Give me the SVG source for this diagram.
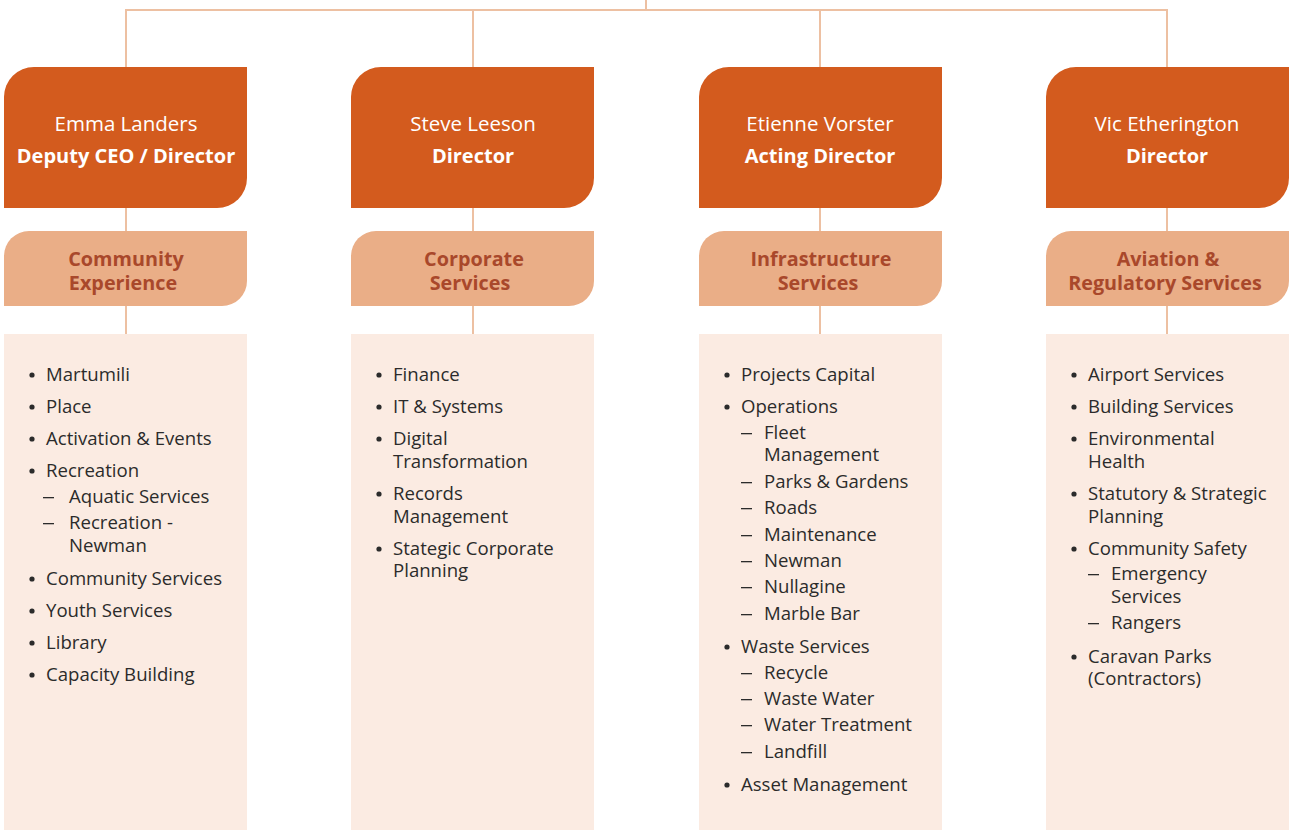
<svg xmlns="http://www.w3.org/2000/svg" width="1290" height="830" viewBox="0 0 1290 830">
<style>
.con{stroke:#EDC0A2;stroke-width:2;fill:none}
.head{fill:#D35B1E}
.dept{fill:#EAAE87}
.list{fill:#FBEBE2}
.bu{fill:#2b2b2b}
.hn{font-family:"Open Sans","Liberation Sans",sans-serif;font-size:20.5px;fill:#fff;text-anchor:middle}
.ht{font-family:"Open Sans","Liberation Sans",sans-serif;font-size:20px;font-weight:bold;fill:#fff;text-anchor:middle}
.dt{font-family:"Open Sans","Liberation Sans",sans-serif;font-size:19.8px;font-weight:bold;fill:#A9482B;text-anchor:middle}
.li{font-family:"Open Sans","Liberation Sans",sans-serif;font-size:18.6px;fill:#2b2b2b}
</style>
<rect width="1290" height="830" fill="#fff"/>
<g id="connectors">
<path class="con" d="M646,0V10M125,10H1168"/>
<path class="con" d="M126,10V67M126,208V231M126,306V334"/>
<path class="con" d="M473,10V67M473,208V231M473,306V334"/>
<path class="con" d="M820,10V67M820,208V231M820,306V334"/>
<path class="con" d="M1167,10V67M1167,208V231M1167,306V334"/>
</g>
<g id="col1">
<g id="head1"><path class="head" d="M4,97A30,30 0 0 1 34,67H247V178A30,30 0 0 1 217,208H4Z"/>
<text class="hn" x="126" y="131">Emma Landers</text><text class="ht" x="126" y="163">Deputy CEO / Director</text></g>
<g id="dept1"><path class="dept" d="M4,256A25,25 0 0 1 29,231H247V281A25,25 0 0 1 222,306H4Z"/>
<text class="dt" x="126" y="266">Community</text><text class="dt" x="123" y="290">Experience</text></g>
<g id="list1"><rect class="list" x="4" y="334" width="243" height="496"/>
<g class="bu"><circle cx="32" cy="375" r="2.6"/><circle cx="32" cy="407" r="2.6"/><circle cx="32" cy="439" r="2.6"/><circle cx="32" cy="471" r="2.6"/><circle cx="32" cy="579" r="2.6"/><circle cx="32" cy="611" r="2.6"/><circle cx="32" cy="643" r="2.6"/><circle cx="32" cy="675" r="2.6"/>
<rect x="43" y="497" width="11" height="1.3"/><rect x="43" y="523" width="11" height="1.3"/></g>
<g class="li">
<text x="46" y="381">Martumili</text>
<text x="46" y="413">Place</text>
<text x="46" y="445">Activation &amp; Events</text>
<text x="46" y="477">Recreation</text>
<text x="69" y="503">Aquatic Services</text>
<text x="69" y="529">Recreation -</text><text x="69" y="552">Newman</text>
<text x="46" y="585">Community Services</text>
<text x="46" y="617">Youth Services</text>
<text x="46" y="649">Library</text>
<text x="46" y="681">Capacity Building</text>
</g></g>
</g>
<g id="col2">
<g id="head2"><path class="head" d="M351,97A30,30 0 0 1 381,67H594V178A30,30 0 0 1 564,208H351Z"/>
<text class="hn" x="473" y="131">Steve Leeson</text><text class="ht" x="473" y="163">Director</text></g>
<g id="dept2"><path class="dept" d="M351,256A25,25 0 0 1 376,231H594V281A25,25 0 0 1 569,306H351Z"/>
<text class="dt" x="474" y="266">Corporate</text><text class="dt" x="470" y="290">Services</text></g>
<g id="list2"><rect class="list" x="351" y="334" width="243" height="496"/>
<g class="bu"><circle cx="379" cy="375" r="2.6"/><circle cx="379" cy="407" r="2.6"/><circle cx="379" cy="439" r="2.6"/><circle cx="379" cy="494" r="2.6"/><circle cx="379" cy="549" r="2.6"/></g>
<g class="li">
<text x="393" y="381">Finance</text>
<text x="393" y="413">IT &amp; Systems</text>
<text x="393" y="445">Digital</text><text x="393" y="468">Transformation</text>
<text x="393" y="500">Records</text><text x="393" y="523">Management</text>
<text x="393" y="555">Stategic Corporate</text><text x="393" y="577">Planning</text>
</g></g>
</g>
<g id="col3">
<g id="head3"><path class="head" d="M699,97A30,30 0 0 1 729,67H942V178A30,30 0 0 1 912,208H699Z"/>
<text class="hn" x="820" y="131">Etienne Vorster</text><text class="ht" x="820" y="163">Acting Director</text></g>
<g id="dept3"><path class="dept" d="M699,256A25,25 0 0 1 724,231H942V281A25,25 0 0 1 917,306H699Z"/>
<text class="dt" x="821" y="266">Infrastructure</text><text class="dt" x="818" y="290">Services</text></g>
<g id="list3"><rect class="list" x="699" y="334" width="243" height="496"/>
<g class="bu"><circle cx="727" cy="375" r="2.6"/><circle cx="727" cy="407" r="2.6"/><circle cx="727" cy="647" r="2.6"/><circle cx="727" cy="785" r="2.6"/>
<rect x="741" y="433" width="11" height="1.3"/><rect x="741" y="482" width="11" height="1.3"/><rect x="741" y="508" width="11" height="1.3"/><rect x="741" y="535" width="11" height="1.3"/><rect x="741" y="561" width="11" height="1.3"/><rect x="741" y="587" width="11" height="1.3"/><rect x="741" y="614" width="11" height="1.3"/><rect x="741" y="673" width="11" height="1.3"/><rect x="741" y="699" width="11" height="1.3"/><rect x="741" y="725" width="11" height="1.3"/><rect x="741" y="752" width="11" height="1.3"/></g>
<g class="li">
<text x="741" y="381">Projects Capital</text>
<text x="741" y="413">Operations</text>
<text x="764" y="439">Fleet</text><text x="764" y="461">Management</text>
<text x="764" y="488">Parks &amp; Gardens</text>
<text x="764" y="514">Roads</text>
<text x="764" y="541">Maintenance</text>
<text x="764" y="567">Newman</text>
<text x="764" y="593">Nullagine</text>
<text x="764" y="620">Marble Bar</text>
<text x="741" y="653">Waste Services</text>
<text x="764" y="679">Recycle</text>
<text x="764" y="705">Waste Water</text>
<text x="764" y="731">Water Treatment</text>
<text x="764" y="758">Landfill</text>
<text x="741" y="791">Asset Management</text>
</g></g>
</g>
<g id="col4">
<g id="head4"><path class="head" d="M1046,97A30,30 0 0 1 1076,67H1289V178A30,30 0 0 1 1259,208H1046Z"/>
<text class="hn" x="1167" y="131">Vic Etherington</text><text class="ht" x="1167" y="163">Director</text></g>
<g id="dept4"><path class="dept" d="M1046,256A25,25 0 0 1 1071,231H1289V281A25,25 0 0 1 1264,306H1046Z"/>
<text class="dt" x="1168" y="266">Aviation &amp;</text><text class="dt" x="1165" y="290">Regulatory Services</text></g>
<g id="list4"><rect class="list" x="1046" y="334" width="243" height="496"/>
<g class="bu"><circle cx="1074" cy="375" r="2.6"/><circle cx="1074" cy="407" r="2.6"/><circle cx="1074" cy="439" r="2.6"/><circle cx="1074" cy="494" r="2.6"/><circle cx="1074" cy="549" r="2.6"/><circle cx="1074" cy="657" r="2.6"/>
<rect x="1088" y="574" width="11" height="1.3"/><rect x="1088" y="623" width="11" height="1.3"/></g>
<g class="li">
<text x="1088" y="381">Airport Services</text>
<text x="1088" y="413">Building Services</text>
<text x="1088" y="445">Environmental</text><text x="1088" y="468">Health</text>
<text x="1088" y="500">Statutory &amp; Strategic</text><text x="1088" y="523">Planning</text>
<text x="1088" y="555">Community Safety</text>
<text x="1111" y="580">Emergency</text><text x="1111" y="603">Services</text>
<text x="1111" y="629">Rangers</text>
<text x="1088" y="663">Caravan Parks</text><text x="1088" y="685">(Contractors)</text>
</g></g>
</g>
</svg>
